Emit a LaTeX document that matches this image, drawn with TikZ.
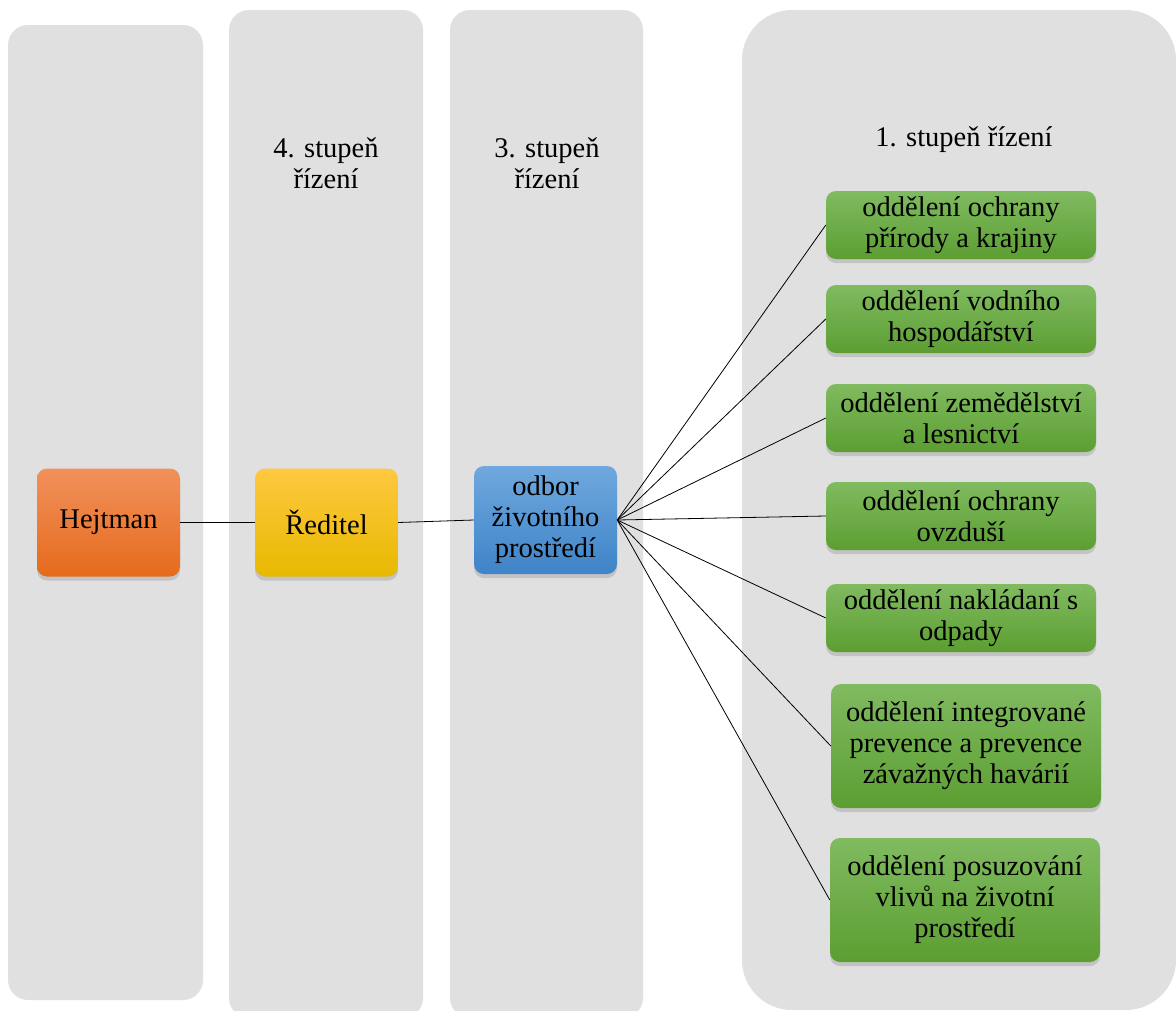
\documentclass[tikz,border=0pt]{standalone}
\usepackage{fontspec}
\setmainfont{Liberation Serif}
\usetikzlibrary{shadows}
\definecolor{colgrey}{RGB}{224,224,224}
\tikzset{
  column/.style={fill=colgrey, draw=none},
  box/.style={rounded corners=10pt, minimum width=143pt, minimum height=108pt, align=center,
    font=\fontsize{28.5}{31}\selectfont, inner sep=2pt,
    drop shadow={opacity=0.3, shadow xshift=0pt, shadow yshift=-4pt}},
  gbox/.style={box, minimum width=270pt, minimum height=68pt, top color=green1, bottom color=green2},
  link/.style={draw=black, line width=0.8pt},
  head/.style={align=center, font=\fontsize{28.5}{31}\selectfont}
}
\definecolor{orange1}{RGB}{241,145,92}
\definecolor{orange2}{RGB}{230,106,28}
\definecolor{yellow1}{RGB}{255,200,64}
\definecolor{yellow2}{RGB}{232,185,0}
\definecolor{blue1}{RGB}{112,168,222}
\definecolor{blue2}{RGB}{62,132,200}
\definecolor{green1}{RGB}{128,187,96}
\definecolor{green2}{RGB}{92,158,50}
\begin{document}
\begin{tikzpicture}[x=1pt, y=-1pt]
\useasboundingbox (0,0) rectangle (1176,1010);
\begin{scope}
\clip (0,0) rectangle (1176,1010);
\fill[column, rounded corners=20pt] (8,25) rectangle (203,1000);
\fill[column, rounded corners=20pt] (229,10) rectangle (423,1018);
\fill[column, rounded corners=20pt] (450,10) rectangle (643,1018);
\fill[column, rounded corners=50pt] (742,10) rectangle (1176,1010);
\end{scope}

\node[head] (h4) at (326,163) {4. stupeň\\řízení};
\node[head] (h3) at (547,163) {3. stupeň\\řízení};
\node[head] (h1) at (964,140) {1. stupeň řízení};

\node[box, top color=orange1, bottom color=orange2] (hej) at (108.5,522.5) {Hejtman};
\node[box, top color=yellow1, bottom color=yellow2] (red) at (326.5,522.5) {Ředitel};
\node[box, top color=blue1, bottom color=blue2] (odb) at (545.5,520) {odbor\\životního\\prostředí};

\node[gbox] (g1) at (961,225) {oddělení ochrany\\přírody a krajiny};
\node[gbox] (g2) at (961,319) {oddělení vodního\\hospodářství};
\node[gbox] (g3) at (961,418) {oddělení zemědělství\\a lesnictví};
\node[gbox] (g4) at (961,516) {oddělení ochrany\\ovzduší};
\node[gbox] (g5) at (961,618) {oddělení nakládaní s\\odpady};
\node[gbox, minimum height=124pt] (g6) at (966,746) {oddělení integrované\\prevence a prevence\\závažných havárií};
\node[gbox, minimum height=124pt] (g7) at (965,900) {oddělení posuzování\\vlivů na životní\\prostředí};

\draw[link] (hej.east) -- (red.west);
\draw[link] (red.east) -- (odb.west);
\foreach \g in {g1,g2,g3,g4,g5,g6,g7}
  \draw[link] (odb.east) -- (\g.west);
\end{tikzpicture}
\end{document}
